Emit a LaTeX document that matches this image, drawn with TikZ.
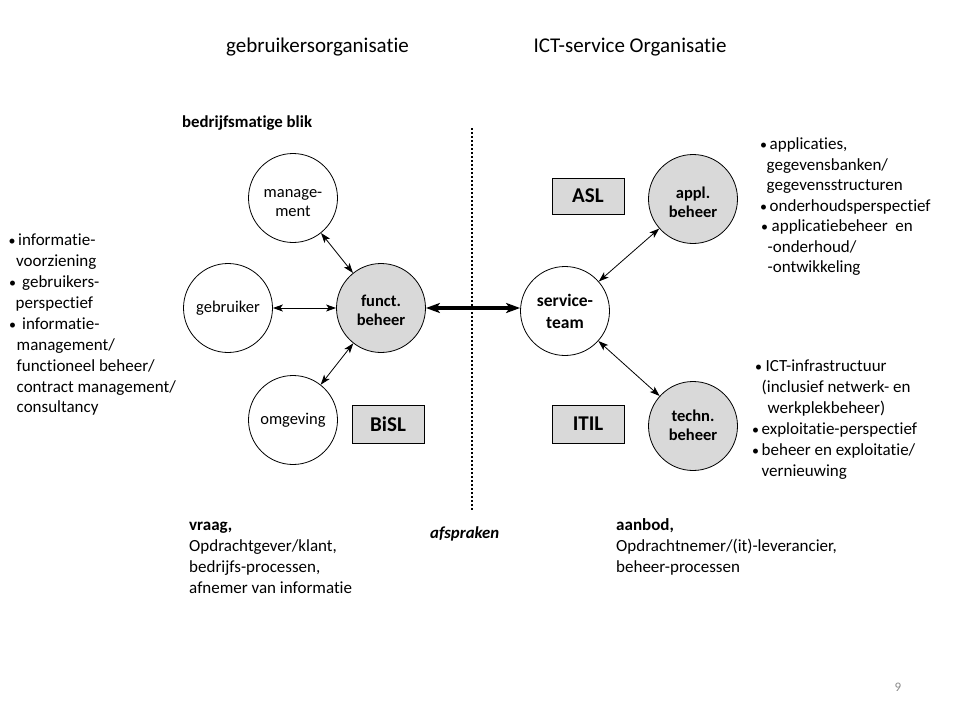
\documentclass[tikz,border=0pt]{standalone}
\usepackage{fontspec}
\setmainfont{Carlito}[RawFeature={-liga}]
\usetikzlibrary{arrows.meta}
\definecolor{cfill}{HTML}{D9D9D9}
\definecolor{pgnum}{HTML}{8C8C8C}
% bullet centred at #1, text starting at #2 (from the node's left edge)
\newcommand\bl[2]{\makebox[#2][l]{\hspace*{#1}\makebox[0pt]{\fontsize{14}{0}\selectfont\textbullet}}}
\newcommand\ind[1]{\hspace*{#1}}
\newcommand\fs{\rule{0pt}{15pt}}
\newcommand\ctop[1]{\rule{0pt}{#1}}
\newcommand\cbot[1]{\rule[-#1]{0pt}{#1}}
\begin{document}
\begin{tikzpicture}[x=1pt,y=-1pt,
  circ/.style={circle,draw,line width=0.8pt,minimum size=89pt,inner sep=0pt,align=center,
    font=\fontsize{16.5}{19}\selectfont},
  gcirc/.style={circ,fill=cfill,font=\fontsize{16.5}{19}\selectfont\bfseries},
  framebox/.style={draw,line width=0.8pt,fill=cfill,minimum width=72pt,minimum height=38pt,
    font=\fontsize{21}{24}\selectfont\bfseries},
  dbl/.style={line width=0.8pt,{Stealth[length=10pt,width=7pt,inset=2.5pt]}-{Stealth[length=10pt,width=7pt,inset=2.5pt]}},
  thick arrow/.style={line width=3.4pt,{Stealth[length=14pt,width=10pt,inset=3.5pt]}-{Stealth[length=14pt,width=10pt,inset=3.5pt]}},
  title/.style={font=\fontsize{21}{25}\selectfont,anchor=base,inner sep=0pt},
  list/.style={align=left,anchor=north west,inner sep=0pt}
]
\useasboundingbox[fill=white] (0,0) rectangle (960,720);

% titles
\node[title] (t1) at (317.5,52.5) {gebruikersorganisatie};
\node[title] (t2) at (630,52.5) {ICT-service Organisatie};
\node[font=\fontsize{16.8}{20}\selectfont\bfseries,anchor=base west,inner sep=0pt] (blik) at (182,127) {bedrijfsmatige blik};

% dotted divider
\coordinate (dtop) at (472,128);
\coordinate (dbot) at (472,510);
\draw[line width=1.6pt,dash pattern=on 1.6pt off 2.4pt] (dtop) -- (dbot);

% left circles
\node[circ] (mgmt) at (293,198) {\ctop{19pt}manage-\\ment};
\node[circ] (gebr) at (228,308) {gebruiker};
\node[gcirc] (funct) at (381,308) {\ctop{17pt}funct.\\beheer\cbot{2pt}};
\node[circ] (omg) at (293,420) {omgeving};
\node[framebox] (bisl) at (388,424) {BiSL};

% right circles
\node[circ,font=\fontsize{17.5}{22}\selectfont\bfseries] (serv) at (565,311) {service-\\team};
\node[gcirc] (appl) at (693,199) {\ctop{19pt}appl.\\beheer};
\node[gcirc] (techn) at (693,426) {\ctop{14pt}techn.\\beheer\cbot{5pt}};
\node[framebox,minimum height=36pt] (asl) at (588,196) {ASL};
\node[framebox] (itil) at (588,424) {ITIL};

% connectors
\draw[dbl] (mgmt) -- (funct);
\draw[dbl] (gebr) -- (funct);
\draw[dbl] (omg) -- (funct);
\draw[dbl] (serv) -- (appl);
\draw[dbl] (serv) -- (techn);
\draw[thick arrow] (funct.east) -- (funct.east -| serv.west);

% left list
\node[list,font=\fontsize{17}{20.9}\selectfont] (llist) at (0,230.5) {%
\fs\bl{12pt}{18pt}informatie-\\
\ind{16pt}voorziening\\
\bl{12.5pt}{22pt}gebruikers-\\
\ind{15.5pt}perspectief\\
\bl{12.5pt}{22pt}informatie-\\
\ind{16.5pt}management/\\
\ind{16.5pt}functioneel beheer/\\
\ind{16.5pt}contract management/\\
\ind{16.5pt}consultancy};

% right top list
\node[list,font=\fontsize{17}{20.5}\selectfont] (rtlist) at (750,134.5) {%
\fs\bl{13.5pt}{19.5pt}applicaties,\\
\ind{16.5pt}gegevensbanken/\\
\ind{16.5pt}gegevensstructuren\\
\bl{13.5pt}{19.5pt}onderhoudsperspectief\\
\bl{14.5pt}{21.5pt}applicatiebeheer\ \ en\\
\ind{17.5pt}-onderhoud/\\
\ind{17.5pt}-ontwikkeling};

% right bottom list
\node[list,font=\fontsize{17}{21}\selectfont] (rblist) at (745,356.5) {%
\fs\bl{13.5pt}{20.5pt}ICT-infrastructuur\\
\ind{16.5pt}(inclusief netwerk- en\\
\ind{22.5pt}werkplekbeheer)\\
\bl{10.5pt}{16.5pt}exploitatie-perspectief\\
\bl{10.5pt}{16.5pt}beheer en exploitatie/\\
\ind{16.5pt}vernieuwing};

% bottom blocks
\node[list,font=\fontsize{17}{21}\selectfont] (vraag) at (189,515.5) {\fs\textbf{vraag,}\\Opdrachtgever/klant,\\bedrijfs-processen,\\afnemer van informatie};
\node[font=\fontsize{16.8}{20}\selectfont\bfseries\itshape,anchor=base west,inner sep=0pt] (afspr) at (430,538) {afspraken};
\node[list,font=\fontsize{17}{21}\selectfont] (aanbod) at (616,515.5) {\fs\textbf{aanbod,}\\Opdrachtnemer/(it)-leverancier,\\beheer-processen};

% page number
\node[font=\fontsize{13}{15}\selectfont,text=pgnum,anchor=base,inner sep=0pt] (pg) at (898,691) {9};
\end{tikzpicture}
\end{document}
